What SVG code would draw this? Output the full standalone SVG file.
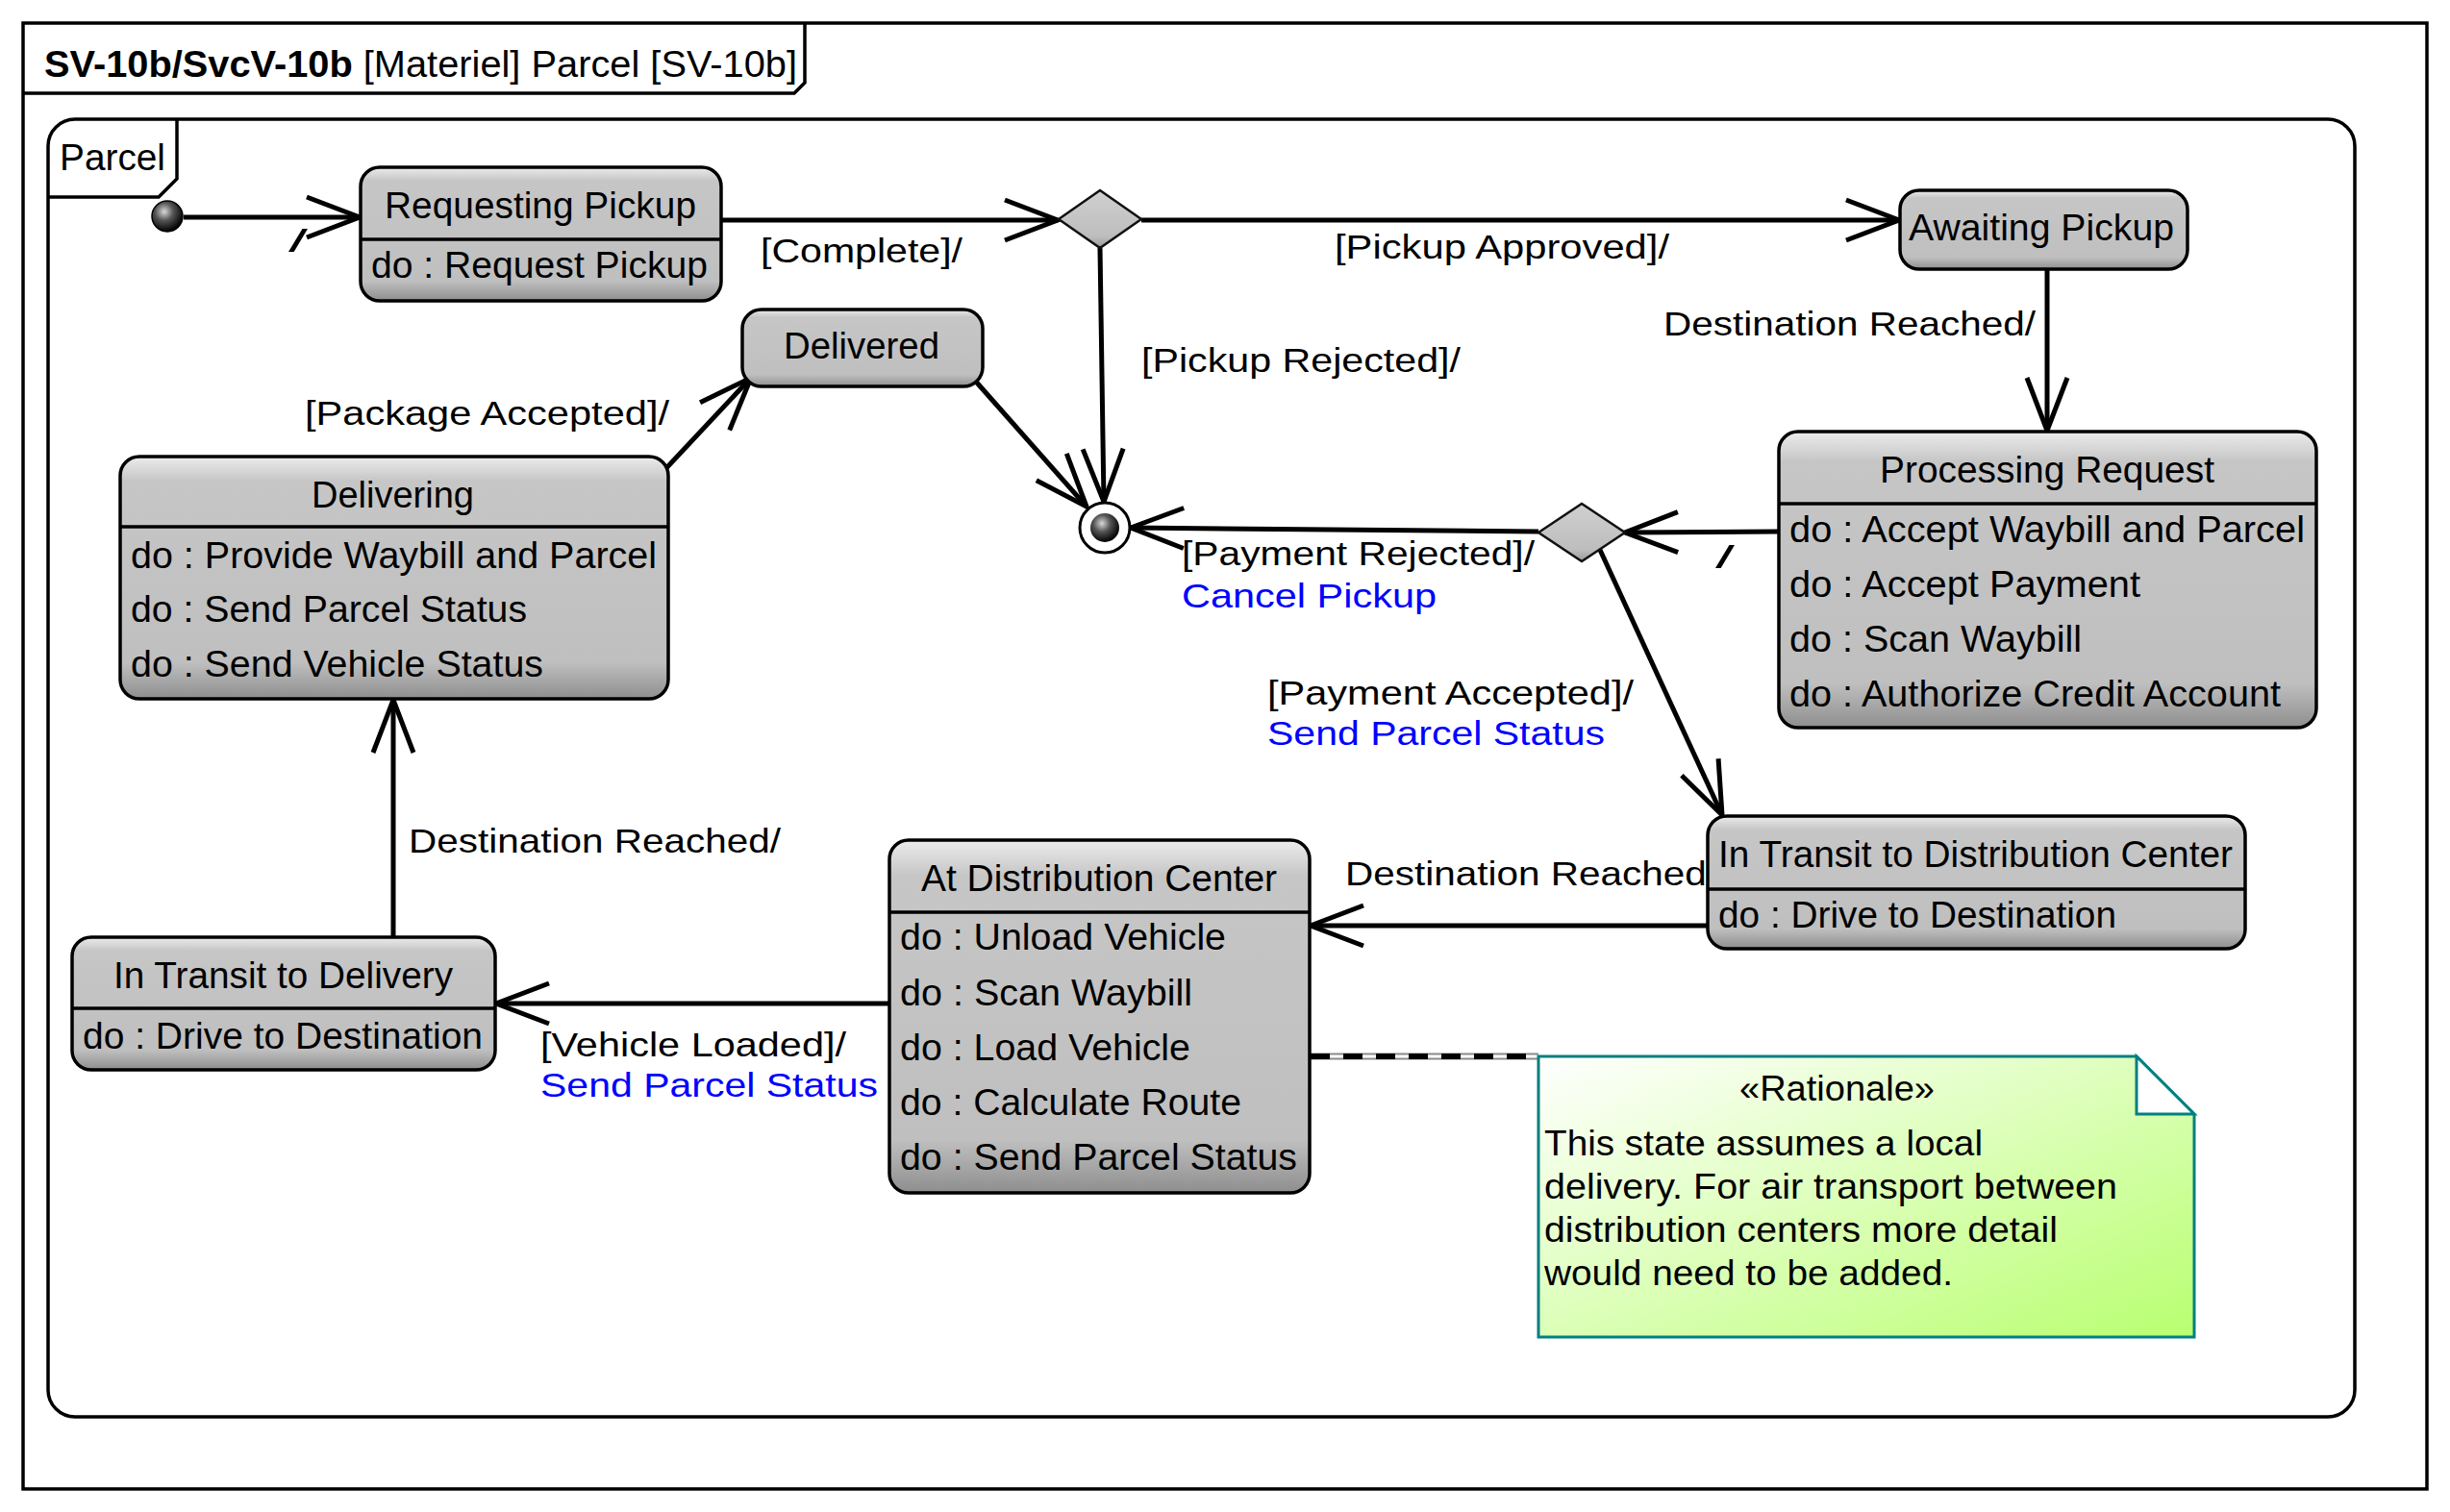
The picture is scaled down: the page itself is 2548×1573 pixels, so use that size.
<svg xmlns="http://www.w3.org/2000/svg" width="2548" height="1573" viewBox="0 0 2548 1573">
<style>
text{font-family:"Liberation Sans",Arial,sans-serif;fill:#000}
.t{font-size:38px}
.l{font-size:35px}
.n{font-size:36px}
.b{fill:#0000ff}
.sl{font-size:34px}
.st{fill:url(#ng);stroke:#000;stroke-width:3.5}
.dv{stroke:#000;stroke-width:3.5}
.tr{fill:none;stroke:#000;stroke-width:5}
.fr{fill:none;stroke:#000;stroke-width:3.5}
.dia{fill:url(#dg);stroke:#111;stroke-width:2.5}
</style>
<defs>
<linearGradient id="ng" x1="0" y1="0" x2="0" y2="1">
<stop offset="0" stop-color="#ececec"/>
<stop offset="0.1" stop-color="#c6c6c6"/>
<stop offset="0.85" stop-color="#bfbfbf"/>
<stop offset="1" stop-color="#8e8e8e"/>
</linearGradient>
<linearGradient id="dg" x1="0" y1="0" x2="0" y2="1">
<stop offset="0" stop-color="#d0d0d0"/>
<stop offset="0.8" stop-color="#bdbdbd"/>
<stop offset="1" stop-color="#9a9a9a"/>
</linearGradient>
<radialGradient id="ball" cx="0.4" cy="0.35" r="0.65">
<stop offset="0" stop-color="#d8d8d8"/>
<stop offset="0.45" stop-color="#555"/>
<stop offset="1" stop-color="#000"/>
</radialGradient>
<linearGradient id="noteg" x1="0" y1="0" x2="1" y2="1">
<stop offset="0" stop-color="#ffffff"/>
<stop offset="1" stop-color="#b8ff70"/>
</linearGradient>
<marker id="arr" markerUnits="userSpaceOnUse" markerWidth="80" markerHeight="60" viewBox="-60 -30 70 60" refX="0" refY="0" orient="auto">
<path d="M-55,-21 L0,0 L-55,21" fill="none" stroke="#000" stroke-width="5"/>
</marker>
</defs>
<rect width="2548" height="1573" fill="#fff"/>

<g id="frame">
<rect class="fr" x="24" y="24" width="2500" height="1525"/>
<path class="fr" d="M24,97 L826,97 L837,86 L837,24"/>
<text x="46" y="80" style="font-size:38px" textLength="783" lengthAdjust="spacingAndGlyphs"><tspan font-weight="bold">SV-10b/SvcV-10b</tspan> [Materiel] Parcel [SV-10b]</text>
</g>

<g id="parcel-region">
<rect class="fr" x="50" y="124" width="2399" height="1350" rx="28" ry="28"/>
<path class="fr" d="M50,205 L165,205 L184,186 L184,124"/>
<text class="t" x="62" y="177" textLength="110" lengthAdjust="spacingAndGlyphs">Parcel</text>
</g>

<g id="connectors">
<path class="tr" d="M191,226 L374,226" marker-end="url(#arr)"/>
<path class="tr" d="M751,229 L1100,229" marker-end="url(#arr)"/>
<path class="tr" d="M1187,229 L1975,229" marker-end="url(#arr)"/>
<path class="tr" d="M1144,258 L1148,522" marker-end="url(#arr)"/>
<path class="tr" d="M1015,397 L1130,527" marker-end="url(#arr)"/>
<path class="tr" d="M1600,553 L1176,549" marker-end="url(#arr)"/>
<path class="tr" d="M1850,553 L1690,554" marker-end="url(#arr)"/>
<path class="tr" d="M1664,572 L1791,848" marker-end="url(#arr)"/>
<path class="tr" d="M2129,281 L2129,448" marker-end="url(#arr)"/>
<path class="tr" d="M1776,963 L1363,963" marker-end="url(#arr)"/>
<path class="tr" d="M925,1044 L516,1044" marker-end="url(#arr)"/>
<path class="tr" d="M409,974 L409,728" marker-end="url(#arr)"/>
<path class="tr" d="M692,488 L781,393" marker-end="url(#arr)"/>
<path d="M1363,1099 L1600,1099" stroke="#8a8a8a" stroke-width="7" fill="none"/>
<path d="M1363,1099 L1600,1099" stroke="#fff" stroke-width="3" fill="none"/>
<path d="M1363,1099 L1600,1099" stroke="#000" stroke-width="6" stroke-dasharray="20 14" fill="none"/>
<text class="sl" x="300" y="262" textLength="20" lengthAdjust="spacingAndGlyphs">/</text>
<text class="l" x="791" y="273" textLength="210" lengthAdjust="spacingAndGlyphs">[Complete]/</text>
<text class="l" x="1388" y="269" textLength="348" lengthAdjust="spacingAndGlyphs">[Pickup Approved]/</text>
<text class="l" x="1187" y="387" textLength="332" lengthAdjust="spacingAndGlyphs">[Pickup Rejected]/</text>
<text class="l" x="1730" y="349" textLength="387" lengthAdjust="spacingAndGlyphs">Destination Reached/</text>
<text class="l" x="317" y="442" textLength="379" lengthAdjust="spacingAndGlyphs">[Package Accepted]/</text>
<text class="l" x="1229" y="588" textLength="367" lengthAdjust="spacingAndGlyphs">[Payment Rejected]/</text>
<text class="l b" x="1229" y="632" textLength="265" lengthAdjust="spacingAndGlyphs">Cancel Pickup</text>
<text class="sl" x="1784" y="591" textLength="20" lengthAdjust="spacingAndGlyphs">/</text>
<text class="l" x="1318" y="733" textLength="381" lengthAdjust="spacingAndGlyphs">[Payment Accepted]/</text>
<text class="l b" x="1318" y="775" textLength="351" lengthAdjust="spacingAndGlyphs">Send Parcel Status</text>
<text class="l" x="1399" y="921" textLength="387" lengthAdjust="spacingAndGlyphs">Destination Reached/</text>
<text class="l" x="562" y="1099" textLength="318" lengthAdjust="spacingAndGlyphs">[Vehicle Loaded]/</text>
<text class="l b" x="562" y="1141" textLength="351" lengthAdjust="spacingAndGlyphs">Send Parcel Status</text>
<text class="l" x="425" y="887" textLength="387" lengthAdjust="spacingAndGlyphs">Destination Reached/</text>
</g>

<g id="initial">
<circle cx="174" cy="225" r="16" fill="url(#ball)" stroke="#000" stroke-width="1.5"/>
</g>

<g id="final">
<circle cx="1149" cy="549" r="26" fill="#fff" stroke="#000" stroke-width="3"/>
<circle cx="1149" cy="549" r="15" fill="url(#ball)"/>
</g>

<g id="decision1">
<polygon class="dia" points="1101,228 1144,198 1187,228 1144,258"/>
</g>

<g id="decision2">
<polygon class="dia" points="1600,554 1645,524 1690,554 1645,584"/>
</g>

<g id="requesting-pickup">
<rect class="st" x="375" y="174" width="375" height="139" rx="20"/>
<line class="dv" x1="375" y1="249" x2="750" y2="249"/>
<text class="t" x="400" y="227" textLength="324" lengthAdjust="spacingAndGlyphs">Requesting Pickup</text>
<text class="t" x="386" y="289" textLength="350" lengthAdjust="spacingAndGlyphs">do : Request Pickup</text>
</g>

<g id="delivered">
<rect class="st" x="772" y="322" width="250" height="80" rx="20"/>
<text class="t" x="815" y="373" textLength="162" lengthAdjust="spacingAndGlyphs">Delivered</text>
</g>

<g id="awaiting-pickup">
<rect class="st" x="1976" y="198" width="299" height="82" rx="20"/>
<text class="t" x="1985" y="250" textLength="276" lengthAdjust="spacingAndGlyphs">Awaiting Pickup</text>
</g>

<g id="processing-request">
<rect class="st" x="1850" y="449" width="559" height="308" rx="20"/>
<line class="dv" x1="1850" y1="524" x2="2409" y2="524"/>
<text class="t" x="1955" y="502" textLength="348" lengthAdjust="spacingAndGlyphs">Processing Request</text>
<text class="t" x="1861" y="564" textLength="536" lengthAdjust="spacingAndGlyphs">do : Accept Waybill and Parcel</text>
<text class="t" x="1861" y="621" textLength="365" lengthAdjust="spacingAndGlyphs">do : Accept Payment</text>
<text class="t" x="1861" y="678" textLength="304" lengthAdjust="spacingAndGlyphs">do : Scan Waybill</text>
<text class="t" x="1861" y="735" textLength="511" lengthAdjust="spacingAndGlyphs">do : Authorize Credit Account</text>
</g>

<g id="delivering">
<rect class="st" x="125" y="475" width="570" height="252" rx="20"/>
<line class="dv" x1="125" y1="548" x2="695" y2="548"/>
<text class="t" x="324" y="528" textLength="169" lengthAdjust="spacingAndGlyphs">Delivering</text>
<text class="t" x="136" y="591" textLength="547" lengthAdjust="spacingAndGlyphs">do : Provide Waybill and Parcel</text>
<text class="t" x="136" y="647" textLength="412" lengthAdjust="spacingAndGlyphs">do : Send Parcel Status</text>
<text class="t" x="136" y="704" textLength="429" lengthAdjust="spacingAndGlyphs">do : Send Vehicle Status</text>
</g>

<g id="in-transit-to-delivery">
<rect class="st" x="75" y="975" width="440" height="138" rx="20"/>
<line class="dv" x1="75" y1="1049" x2="515" y2="1049"/>
<text class="t" x="118" y="1028" textLength="353" lengthAdjust="spacingAndGlyphs">In Transit to Delivery</text>
<text class="t" x="86" y="1091" textLength="416" lengthAdjust="spacingAndGlyphs">do : Drive to Destination</text>
</g>

<g id="at-distribution-center">
<rect class="st" x="925" y="874" width="437" height="367" rx="20"/>
<line class="dv" x1="925" y1="949" x2="1362" y2="949"/>
<text class="t" x="958" y="927" textLength="370" lengthAdjust="spacingAndGlyphs">At Distribution Center</text>
<text class="t" x="936" y="988" textLength="339" lengthAdjust="spacingAndGlyphs">do : Unload Vehicle</text>
<text class="t" x="936" y="1046" textLength="304" lengthAdjust="spacingAndGlyphs">do : Scan Waybill</text>
<text class="t" x="936" y="1103" textLength="302" lengthAdjust="spacingAndGlyphs">do : Load Vehicle</text>
<text class="t" x="936" y="1160" textLength="355" lengthAdjust="spacingAndGlyphs">do : Calculate Route</text>
<text class="t" x="936" y="1217" textLength="413" lengthAdjust="spacingAndGlyphs">do : Send Parcel Status</text>
</g>

<g id="in-transit-to-distribution-center">
<rect class="st" x="1776" y="849" width="559" height="138" rx="20"/>
<line class="dv" x1="1776" y1="925" x2="2335" y2="925"/>
<text class="t" x="1787" y="902" textLength="535" lengthAdjust="spacingAndGlyphs">In Transit to Distribution Center</text>
<text class="t" x="1787" y="965" textLength="414" lengthAdjust="spacingAndGlyphs">do : Drive to Destination</text>
</g>

<g id="rationale-note">
<path d="M1600,1099 L2222,1099 L2282,1159 L2282,1391 L1600,1391 Z" fill="url(#noteg)" stroke="#008080" stroke-width="3"/>
<path d="M2222,1099 L2222,1159 L2282,1159 Z" fill="#fff" stroke="#008080" stroke-width="3"/>
<text class="n" x="1809" y="1145" textLength="203" lengthAdjust="spacingAndGlyphs">«Rationale»</text>
<text class="n" x="1606" y="1202" textLength="456" lengthAdjust="spacingAndGlyphs">This state assumes a local</text>
<text class="n" x="1606" y="1247" textLength="596" lengthAdjust="spacingAndGlyphs">delivery. For air transport between</text>
<text class="n" x="1606" y="1292" textLength="534" lengthAdjust="spacingAndGlyphs">distribution centers more detail</text>
<text class="n" x="1606" y="1337" textLength="425" lengthAdjust="spacingAndGlyphs">would need to be added.</text>
</g>
</svg>
